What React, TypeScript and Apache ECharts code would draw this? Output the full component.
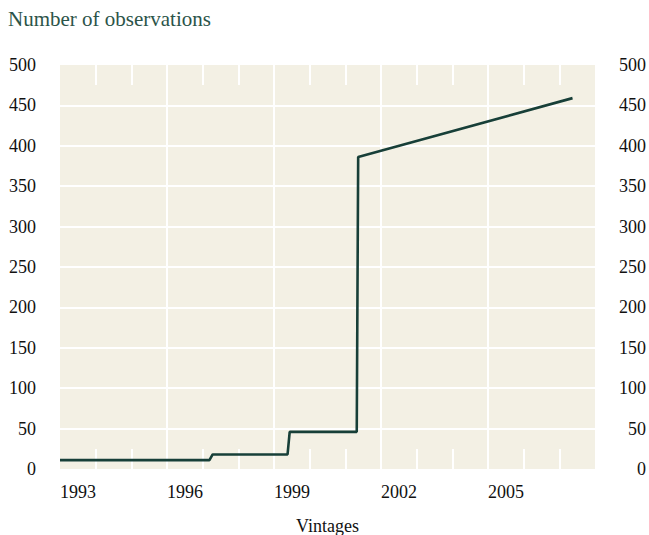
import React, { useEffect, useRef } from "react";
import * as echarts from "echarts";

// Vintage (decimal year) and number of observations
const vintageYears = [1993.0, 1997.19, 1997.28, 1999.38, 1999.44, 2001.32, 2001.36, 2007.37];
const observationCounts = [11, 11, 18, 18, 46, 46, 386, 459];

// Axis settings
const yearAxisStart = 1993;
const yearAxisEnd = 2008;
const yearLabelStep = 3;
const yearMinorSplit = 3;
const countAxisMin = 0;
const countAxisMax = 500;
const countAxisStep = 50;

const titleText = "Number of observations";
const xAxisTitle = "Vintages";

const serif = "'Liberation Serif', 'Times New Roman', serif";

export default function App() {
  const ref = useRef<HTMLDivElement>(null);

  useEffect(() => {
    if (!ref.current) return;
    const chart = echarts.init(ref.current, undefined, { renderer: "svg" });
    const seriesData = vintageYears.map((y, i) => [y, observationCounts[i]]);

    const white = "#ffffff";
    const labelStyle = { color: "#111111", fontFamily: serif, fontSize: 18 };

    chart.setOption({
      animation: false,
      backgroundColor: "#ffffff",
      title: {
        text: titleText,
        left: 8,
        top: 8,
        padding: 0,
        textStyle: { color: "#2c5449", fontFamily: serif, fontSize: 21, fontWeight: "normal" },
      },
      grid: {
        left: 60,
        right: 54,
        top: 65,
        bottom: 66,
        show: true,
        backgroundColor: "#f3f0e4",
        borderWidth: 0,
        containLabel: false,
        outerBoundsMode: "none",
      },
      xAxis: [
        {
          type: "value",
          position: "bottom",
          min: yearAxisStart,
          max: yearAxisEnd,
          interval: yearLabelStep,
          axisLine: { show: false, onZero: false },
          axisTick: { show: false, inside: true },
          minorTick: { show: true, splitNumber: yearMinorSplit, length: 20, lineStyle: { color: white, width: 2 } },
          axisLabel: {
            ...labelStyle,
            align: "left",
            margin: 14,
            showMaxLabel: false,
            formatter: (v: number) => String(Math.round(v)),
          },
          splitLine: { show: true, showMinLine: false, showMaxLine: false, lineStyle: { color: white, width: 2 } },
          name: xAxisTitle,
          nameLocation: "middle",
          nameGap: 48,
          nameTextStyle: { ...labelStyle },
        },
        {
          type: "value",
          position: "top",
          min: yearAxisStart,
          max: yearAxisEnd,
          interval: yearLabelStep,
          axisLine: { show: false, onZero: false },
          axisTick: { show: false, inside: true },
          minorTick: { show: true, splitNumber: yearMinorSplit, length: 20, lineStyle: { color: white, width: 2 } },
          axisLabel: { show: false },
          splitLine: { show: false },
        },
      ],
      yAxis: [
        {
          type: "value",
          position: "left",
          min: countAxisMin,
          max: countAxisMax,
          interval: countAxisStep,
          axisLine: { show: false, onZero: false },
          axisTick: { show: false },
          axisLabel: { ...labelStyle, align: "right", margin: 24 },
          splitLine: { show: true, showMinLine: false, showMaxLine: false, lineStyle: { color: white, width: 2 } },
        },
        {
          type: "value",
          position: "right",
          min: countAxisMin,
          max: countAxisMax,
          interval: countAxisStep,
          axisLine: { show: false, onZero: false },
          axisTick: { show: false },
          axisLabel: { ...labelStyle, align: "right", margin: 51 },
          splitLine: { show: false },
        },
      ],
      series: [
        {
          type: "line",
          xAxisIndex: 0,
          yAxisIndex: 0,
          data: seriesData,
          showSymbol: false,
          symbol: "none",
          lineStyle: { color: "#173f38", width: 2.6 },
          z: 5,
        },
      ],
    });

    return () => chart.dispose();
  }, []);

  return (
    <div
      ref={ref}
      style={{ position: "absolute", left: 0, top: 0, width: 649, height: 535 }}
    />
  );
}
